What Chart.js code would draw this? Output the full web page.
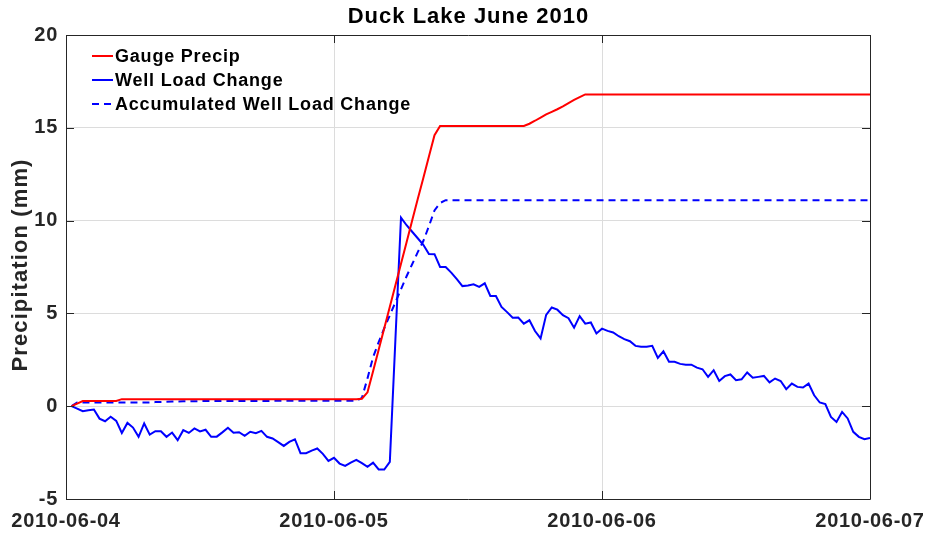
<!DOCTYPE html>
<html><head><meta charset="utf-8">
<script src="https://cdn.jsdelivr.net/npm/chart.js@4/dist/chart.umd.min.js"></script>
<style>html,body{margin:0;padding:0;background:#fff;}#wrap{width:928px;height:538px;}</style>
</head><body><div id="wrap"><canvas id="c" width="928" height="538"></canvas></div>
<script>
// ---- data ----
const chartTitle = 'Duck Lake June 2010';
const yAxisTitle = 'Precipitation (mm)';
const dayLabels = ['2010-06-04', '2010-06-05', '2010-06-06', '2010-06-07'];
const seriesNames = ['Gauge Precip', 'Well Load Change', 'Accumulated Well Load Change'];
// half-hourly sample times, hours after 2010-06-04 00:00 (00:30 ... 72:00)
const hours = [];
for (let i = 1; i <= 144; i++) hours.push(i * 0.5);

const gaugePrecip = [
  0, 0.14, 0.28, 0.28, 0.28, 0.28, 0.28, 0.28, 0.28, 0.38, 0.38, 0.38,
  0.38, 0.38, 0.38, 0.38, 0.38, 0.38, 0.38, 0.38, 0.38, 0.38, 0.38, 0.38,
  0.38, 0.38, 0.38, 0.38, 0.38, 0.38, 0.38, 0.38, 0.38, 0.38, 0.38, 0.38,
  0.38, 0.38, 0.38, 0.38, 0.38, 0.38, 0.38, 0.38, 0.38, 0.38, 0.38, 0.38,
  0.38, 0.38, 0.38, 0.38, 0.40, 0.75, 1.88, 3.04, 4.20, 5.36, 6.52, 7.68,
  8.84, 10.0, 11.16, 12.3, 13.46, 14.6, 15.1, 15.1, 15.1, 15.1, 15.1, 15.1,
  15.1, 15.1, 15.1, 15.1, 15.1, 15.1, 15.1, 15.1, 15.1, 15.1, 15.22, 15.38,
  15.55, 15.72, 15.86, 16.0, 16.15, 16.33, 16.5, 16.65, 16.8, 16.8, 16.8, 16.8,
  16.8, 16.8, 16.8, 16.8, 16.8, 16.8, 16.8, 16.8, 16.8, 16.8, 16.8, 16.8,
  16.8, 16.8, 16.8, 16.8, 16.8, 16.8, 16.8, 16.8, 16.8, 16.8, 16.8, 16.8,
  16.8, 16.8, 16.8, 16.8, 16.8, 16.8, 16.8, 16.8, 16.8, 16.8, 16.8, 16.8,
  16.8, 16.8, 16.8, 16.8, 16.8, 16.8, 16.8, 16.8, 16.8, 16.8, 16.8, 16.8
];
const wellLoadChange = [
  0, -0.13, -0.27, -0.22, -0.18, -0.67, -0.81, -0.57, -0.79, -1.44, -0.9, -1.15,
  -1.65, -0.93, -1.53, -1.35, -1.35, -1.65, -1.42, -1.83, -1.29, -1.44, -1.2, -1.36,
  -1.27, -1.65, -1.64, -1.41, -1.16, -1.43, -1.4, -1.6, -1.38, -1.45, -1.33, -1.65,
  -1.74, -1.94, -2.14, -1.92, -1.78, -2.53, -2.53, -2.39, -2.28, -2.57, -2.95, -2.78,
  -3.09, -3.22, -3.04, -2.89, -3.07, -3.27, -3.04, -3.41, -3.41, -3.0, 3.6, 10.16,
  9.75, 9.4, 9.05, 8.7, 8.2, 8.19, 7.5, 7.5, 7.2, 6.85, 6.47, 6.5,
  6.57, 6.43, 6.62, 5.94, 5.94, 5.35, 5.07, 4.77, 4.78, 4.45, 4.63, 4.05,
  3.65, 4.92, 5.32, 5.2, 4.9, 4.74, 4.23, 4.85, 4.45, 4.51, 3.92, 4.18,
  4.06, 3.97, 3.77, 3.61, 3.5, 3.25, 3.2, 3.2, 3.25, 2.6, 2.96, 2.39,
  2.39, 2.28, 2.24, 2.24, 2.08, 1.99, 1.58, 1.94, 1.36, 1.62, 1.71, 1.4,
  1.45, 1.82, 1.53, 1.58, 1.63, 1.28, 1.49, 1.36, 0.92, 1.22, 1.04, 1.01,
  1.22, 0.59, 0.2, 0.11, -0.58, -0.85, -0.31, -0.66, -1.38, -1.65, -1.78, -1.71
];
const accumWellLoadChange = [
  0, 0.2, 0.2, 0.2, 0.2, 0.2, 0.2, 0.2, 0.2, 0.2, 0.2, 0.2,
  0.2, 0.2, 0.2, 0.22, 0.23, 0.24, 0.25, 0.25, 0.26, 0.26, 0.27, 0.27,
  0.28, 0.28, 0.28, 0.28, 0.28, 0.28, 0.28, 0.28, 0.28, 0.28, 0.28, 0.28,
  0.29, 0.29, 0.29, 0.29, 0.29, 0.29, 0.29, 0.29, 0.29, 0.29, 0.29, 0.29,
  0.29, 0.29, 0.29, 0.29, 0.45, 1.5, 2.64, 3.45, 4.2, 4.9, 5.6, 6.3,
  7.0, 7.65, 8.3, 8.9, 9.7, 10.55, 10.95, 11.1, 11.1, 11.1, 11.1, 11.1,
  11.1, 11.1, 11.1, 11.1, 11.1, 11.1, 11.1, 11.1, 11.1, 11.1, 11.1, 11.1,
  11.1, 11.1, 11.1, 11.1, 11.1, 11.1, 11.1, 11.1, 11.1, 11.1, 11.1, 11.1,
  11.1, 11.1, 11.1, 11.1, 11.1, 11.1, 11.1, 11.1, 11.1, 11.1, 11.1, 11.1,
  11.1, 11.1, 11.1, 11.1, 11.1, 11.1, 11.1, 11.1, 11.1, 11.1, 11.1, 11.1,
  11.1, 11.1, 11.1, 11.1, 11.1, 11.1, 11.1, 11.1, 11.1, 11.1, 11.1, 11.1,
  11.1, 11.1, 11.1, 11.1, 11.1, 11.1, 11.1, 11.1, 11.1, 11.1, 11.1, 11.1
];

// ---- styles ----
const FONT = '"Liberation Sans", Arial, Helvetica, sans-serif';
const AXIS_COLOR = '#262626';
const GRID_COLOR = '#dcdcdc';
const seriesColors = ['#ff0000', '#0000ff', '#0000ff'];
const seriesDash = [[], [], [7, 5]];

const pts = arr => hours.map((h, i) => ({ x: h, y: arr[i] }));

const matlabLook = {
  id: 'matlabLook',
  beforeDraw(chart) {
    const ctx = chart.ctx;
    ctx.save();
    ctx.fillStyle = '#ffffff';
    ctx.fillRect(0, 0, chart.width, chart.height);
    ctx.restore();
    ctx.letterSpacing = '0.7px'; // used by the axis tick labels
  },
  afterDatasetsDraw(chart) {
    const ctx = chart.ctx;
    const a = chart.chartArea;
    const xs = chart.scales.x, ys = chart.scales.y;
    ctx.save();
    // frame
    ctx.strokeStyle = AXIS_COLOR;
    ctx.lineWidth = 1;
    ctx.beginPath();
    ctx.rect(Math.round(a.left) + 0.5, Math.round(a.top) + 0.5,
             Math.round(a.right - a.left), Math.round(a.bottom - a.top));
    ctx.stroke();
    // inward ticks
    const TL = 8;
    ctx.beginPath();
    xs.ticks.forEach(t => {
      const px = Math.round(xs.getPixelForValue(t.value)) + 0.5;
      ctx.moveTo(px, a.bottom); ctx.lineTo(px, a.bottom - TL);
      ctx.moveTo(px, a.top); ctx.lineTo(px, a.top + TL);
    });
    ys.ticks.forEach(t => {
      const py = Math.round(ys.getPixelForValue(t.value)) + 0.5;
      ctx.moveTo(a.left, py); ctx.lineTo(a.left + TL, py);
      ctx.moveTo(a.right, py); ctx.lineTo(a.right - TL, py);
    });
    ctx.stroke();

    // title
    ctx.fillStyle = '#000000';
    ctx.letterSpacing = '1px';
    ctx.font = 'bold 22px ' + FONT;
    ctx.textAlign = 'center';
    ctx.textBaseline = 'middle';
    ctx.fillText(chartTitle, (a.left + a.right) / 2 + 0.5, 17);

    // y axis title
    ctx.save();
    ctx.translate(21, (a.top + a.bottom) / 2 - 2);
    ctx.rotate(-Math.PI / 2);
    ctx.fillStyle = AXIS_COLOR;
    ctx.letterSpacing = '1.1px';
    ctx.font = 'bold 22px ' + FONT;
    ctx.fillText(yAxisTitle, 0, 0);
    ctx.restore();

    // legend
    ctx.letterSpacing = '0.8px';
    ctx.font = 'bold 18px ' + FONT;
    ctx.textAlign = 'left';
    ctx.textBaseline = 'middle';
    const rows = [56, 80, 104];
    seriesNames.forEach((name, i) => {
      ctx.strokeStyle = seriesColors[i];
      ctx.lineWidth = 2;
      ctx.setLineDash(seriesDash[i]);
      ctx.beginPath();
      ctx.moveTo(92, rows[i]); ctx.lineTo(113, rows[i]);
      ctx.stroke();
      ctx.setLineDash([]);
      ctx.fillStyle = '#000000';
      ctx.fillText(name, 115, rows[i] + 1);
    });
    ctx.restore();
  },
  afterDraw(chart) {
    chart.ctx.letterSpacing = '0px';
  }
};

new Chart(document.getElementById('c'), {
  type: 'line',
  data: {
    datasets: [
      { label: seriesNames[0], data: pts(gaugePrecip), borderColor: seriesColors[0], borderWidth: 2, borderDash: seriesDash[0] },
      { label: seriesNames[1], data: pts(wellLoadChange), borderColor: seriesColors[1], borderWidth: 2, borderDash: seriesDash[1] },
      { label: seriesNames[2], data: pts(accumWellLoadChange), borderColor: seriesColors[2], borderWidth: 2, borderDash: seriesDash[2] }
    ]
  },
  options: {
    responsive: false,
    animation: false,
    devicePixelRatio: 1,
    layout: { padding: { top: 35, right: 58, left: 0, bottom: 0 } },
    elements: { point: { radius: 0, hoverRadius: 0 }, line: { tension: 0, fill: false } },
    plugins: { legend: { display: false }, title: { display: false }, tooltip: { enabled: false } },
    scales: {
      x: {
        type: 'linear', min: 0, max: 72,
        grid: { color: GRID_COLOR, lineWidth: 1, drawTicks: false },
        border: { display: false },
        ticks: {
          stepSize: 24, padding: 10, maxRotation: 0, autoSkip: false,
          color: AXIS_COLOR, font: { family: FONT, size: 20, weight: 'bold' },
          callback: v => dayLabels[Math.round(v / 24)]
        },
        afterFit: s => { s.height = 39; s.paddingLeft = 0; s.paddingRight = 0; }
      },
      y: {
        type: 'linear', min: -5, max: 20,
        grid: { color: GRID_COLOR, lineWidth: 1, drawTicks: false },
        border: { display: false },
        ticks: {
          stepSize: 5, padding: 8,
          color: AXIS_COLOR, font: { family: FONT, size: 20, weight: 'bold' }
        },
        afterFit: s => { s.width = 66; }
      }
    }
  },
  plugins: [matlabLook]
});
</script>
</body></html>
